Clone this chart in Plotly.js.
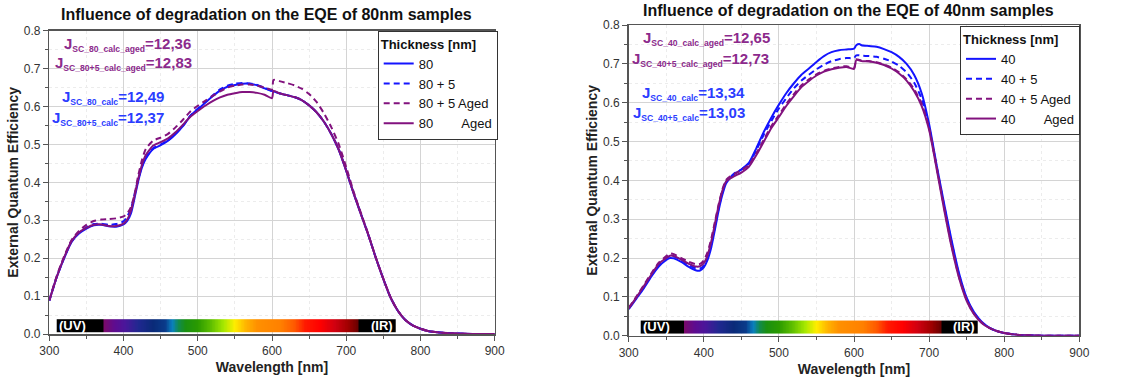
<!DOCTYPE html>
<html><head><meta charset="utf-8">
<script src="https://cdn.plot.ly/plotly-3.0.1.min.js"></script>
<style>html,body{margin:0;padding:0;background:#fff}#chart{width:1136px;height:383px}</style>
</head><body><div id="chart"></div>
<script>
// ---------- 80 nm samples ----------
const wl80 = [300,310,320,330,340,350,360,370,380,390,400,405,410,415,420,425,430,440,450,460,470,480,490,500,510,520,530,540,550,560,570,580,590,600,602,610,620,630,640,650,660,670,680,690,700,710,720,730,740,750,760,770,780,790,800,810,820,830,840,850,870,900];
const eqe80 = [0.088,0.150,0.200,0.243,0.265,0.278,0.287,0.288,0.284,0.283,0.289,0.298,0.318,0.360,0.405,0.440,0.462,0.488,0.498,0.510,0.527,0.548,0.575,0.593,0.610,0.627,0.642,0.652,0.657,0.660,0.660,0.656,0.648,0.641,0.640,0.635,0.630,0.625,0.617,0.603,0.585,0.560,0.527,0.485,0.430,0.370,0.315,0.260,0.200,0.145,0.095,0.060,0.036,0.022,0.014,0.008,0.005,0.003,0.002,0.001,0,0];
const eqe80p5 = [0.088,0.150,0.201,0.244,0.267,0.281,0.290,0.291,0.288,0.290,0.297,0.310,0.330,0.370,0.410,0.443,0.465,0.490,0.500,0.511,0.528,0.549,0.576,0.594,0.612,0.629,0.645,0.655,0.660,0.662,0.661,0.657,0.649,0.641,0.640,0.635,0.630,0.625,0.617,0.603,0.585,0.560,0.527,0.487,0.432,0.372,0.316,0.260,0.200,0.145,0.095,0.060,0.036,0.022,0.014,0.008,0.005,0.003,0.002,0.001,0,0];
const eqe80p5Aged = [0.090,0.153,0.205,0.248,0.272,0.288,0.298,0.302,0.303,0.305,0.310,0.318,0.335,0.370,0.420,0.460,0.488,0.510,0.518,0.528,0.545,0.565,0.587,0.602,0.615,0.628,0.640,0.650,0.655,0.658,0.658,0.655,0.650,0.645,0.670,0.667,0.662,0.656,0.647,0.633,0.612,0.582,0.545,0.500,0.440,0.375,0.318,0.262,0.201,0.146,0.096,0.060,0.036,0.022,0.014,0.008,0.005,0.003,0.002,0.001,0,0];
const eqe80Aged = [0.088,0.150,0.202,0.245,0.268,0.280,0.288,0.289,0.285,0.285,0.291,0.302,0.325,0.366,0.410,0.447,0.472,0.497,0.506,0.516,0.532,0.552,0.573,0.588,0.602,0.614,0.624,0.631,0.635,0.638,0.638,0.636,0.631,0.622,0.641,0.635,0.630,0.625,0.617,0.603,0.585,0.560,0.527,0.486,0.431,0.371,0.315,0.260,0.200,0.145,0.095,0.060,0.036,0.022,0.014,0.008,0.005,0.003,0.002,0.001,0,0];

// ---------- 40 nm samples ----------
const wl40 = [300,310,320,330,340,350,355,360,370,380,390,395,400,405,410,415,420,425,430,440,450,460,470,480,490,500,510,520,530,540,550,560,570,580,590,600,603,607,610,620,630,640,650,660,670,680,690,700,710,720,730,740,750,760,770,780,790,800,810,820,830,850,870,900];
const eqe40 = [0.068,0.095,0.122,0.152,0.178,0.195,0.200,0.199,0.190,0.177,0.168,0.168,0.176,0.195,0.228,0.275,0.325,0.365,0.393,0.415,0.428,0.445,0.483,0.525,0.562,0.595,0.625,0.650,0.672,0.688,0.705,0.720,0.730,0.735,0.737,0.739,0.748,0.751,0.748,0.746,0.744,0.738,0.730,0.718,0.700,0.672,0.625,0.545,0.440,0.340,0.245,0.160,0.098,0.060,0.036,0.021,0.012,0.007,0.004,0.002,0.001,0,0,0];
const eqe40p5 = [0.070,0.097,0.125,0.155,0.182,0.200,0.205,0.204,0.195,0.182,0.173,0.173,0.180,0.200,0.235,0.282,0.330,0.370,0.397,0.417,0.428,0.443,0.478,0.518,0.553,0.585,0.612,0.637,0.657,0.672,0.686,0.698,0.707,0.712,0.715,0.715,0.722,0.722,0.721,0.720,0.718,0.713,0.706,0.695,0.678,0.652,0.610,0.538,0.435,0.335,0.240,0.155,0.095,0.058,0.035,0.021,0.012,0.007,0.004,0.002,0.001,0,0,0];
const eqe40p5Aged = [0.072,0.100,0.130,0.160,0.188,0.205,0.212,0.210,0.200,0.190,0.184,0.185,0.194,0.215,0.250,0.295,0.340,0.378,0.402,0.416,0.426,0.440,0.470,0.505,0.540,0.568,0.597,0.622,0.645,0.660,0.673,0.682,0.688,0.692,0.694,0.689,0.712,0.710,0.708,0.707,0.704,0.698,0.690,0.678,0.660,0.635,0.598,0.535,0.435,0.330,0.232,0.150,0.092,0.056,0.034,0.020,0.012,0.007,0.004,0.002,0.001,0,0,0];
const eqe40Aged = [0.070,0.098,0.127,0.157,0.185,0.200,0.206,0.205,0.196,0.185,0.178,0.179,0.187,0.207,0.243,0.290,0.337,0.375,0.398,0.410,0.420,0.435,0.465,0.500,0.535,0.563,0.592,0.617,0.640,0.656,0.670,0.680,0.686,0.690,0.692,0.687,0.710,0.709,0.707,0.706,0.703,0.697,0.688,0.675,0.657,0.630,0.592,0.530,0.430,0.325,0.228,0.148,0.090,0.055,0.033,0.020,0.012,0.007,0.004,0.002,0.001,0,0,0];

// ---------- labels ----------
const names80 = ['80', '80 + 5', '80 + 5 Aged', '80\u00a0\u00a0\u00a0\u00a0\u00a0\u00a0\u00a0 Aged'];
const names40 = ['40', '40 + 5', '40 + 5 Aged', '40\u00a0\u00a0\u00a0\u00a0\u00a0\u00a0\u00a0 Aged'];
const jsc80 = [['SC_80_calc_aged','12,36'],['SC_80+5_calc_aged','12,83'],['SC_80_calc','12,49'],['SC_80+5_calc','12,37']];
const jsc40 = [['SC_40_calc_aged','12,65'],['SC_40+5_calc_aged','12,73'],['SC_40_calc','13,34'],['SC_40+5_calc','13,03']];

// spectrum colour band: [nm, colour]
const spectrumStops = [[300,'#000000'],[373,'#000000'],[374,'#7a0a6a'],[388,'#5e0c90'],[402,'#4a169a'],[420,'#202890'],[440,'#0a2a78'],[456,'#0a3a8a'],[466,'#0a80c0'],[474,'#108a50'],[484,'#1a9010'],[500,'#2a9a00'],[518,'#5ebe00'],[535,'#a6e800'],[550,'#ffee00'],[565,'#ffb400'],[580,'#ff9000'],[612,'#ff8000'],[630,'#ff5a00'],[645,'#ff1a00'],[665,'#ff0000'],[685,'#d00010'],[703,'#a00000'],[716,'#6a0000'],[717,'#000000'],[800,'#000000']];
const band80 = [310, 767];
const band40 = [316, 765];
const bandY = [0.006, 0.039];

const BLUE = '#1414ff', PURPLE = '#82127e';
const ABLUE = '#2b3dff', APURPLE = '#8c2a8c';
const FONT = 'Liberation Sans, Arial, sans-serif';

const styles = [
  {color: BLUE, dash: 'solid'},
  {color: BLUE, dash: '6px,4px'},
  {color: PURPLE, dash: '6px,4px'},
  {color: PURPLE, dash: 'solid'}
];

function band(range, xa, ya) {
  const edges = [], z = [];
  for (let w = range[0]; w <= range[1]; w += 1) edges.push(w);
  for (let i = 0; i < edges.length - 1; i++) z.push((edges[i] + edges[i+1]) / 2);
  const zmin = spectrumStops[0][0], zmax = spectrumStops[spectrumStops.length-1][0];
  return {
    type: 'heatmap', x: edges, y: bandY, z: [z], xaxis: xa, yaxis: ya,
    zmin: zmin, zmax: zmax, showscale: false, hoverinfo: 'skip', showlegend: false,
    colorscale: spectrumStops.map(s => [(s[0]-zmin)/(zmax-zmin), s[1]])
  };
}

const traces = [band(band80, 'x', 'y'), band(band40, 'x2', 'y2')];
[eqe80, eqe80p5, eqe80p5Aged, eqe80Aged].forEach((v, i) => traces.push({
  type: 'scatter', mode: 'lines', x: wl80, y: v, name: names80[i], xaxis: 'x', yaxis: 'y', legend: 'legend',
  line: {color: styles[i].color, dash: styles[i].dash, width: 2, shape: 'spline', smoothing: 0.6}
}));
[eqe40, eqe40p5, eqe40p5Aged, eqe40Aged].forEach((v, i) => traces.push({
  type: 'scatter', mode: 'lines', x: wl40, y: v, name: names40[i], xaxis: 'x2', yaxis: 'y2', legend: 'legend2',
  line: {color: styles[i].color, dash: styles[i].dash, width: 2, shape: 'spline', smoothing: 0.6}
}));

const W = 1136, H = 383;
function xAxis(domain) {
  return {
    domain: domain, range: [300, 900], dtick: 100, tick0: 300,
    showline: true, mirror: true, linecolor: '#555', linewidth: 1.5,
    ticks: 'outside', ticklen: 5, tickcolor: '#555', tickwidth: 1,
    showgrid: true, gridcolor: '#d4d4d4', gridwidth: 1, zeroline: false,
    minor: {dtick: 50, ticks: 'outside', ticklen: 3, tickcolor: '#555', showgrid: true, gridcolor: '#ececec', griddash: 'dot'},
    tickfont: {family: FONT, size: 12, color: '#333'},
    title: {text: '<b>Wavelength [nm]</b>', font: {family: FONT, size: 14, color: '#222'}, standoff: 5}
  };
}
function yAxis(domain, anchor) {
  return {
    domain: domain, anchor: anchor, range: [0, 0.8], dtick: 0.1, tickformat: '.1f',
    showline: true, mirror: true, linecolor: '#555', linewidth: 1.5,
    ticks: 'outside', ticklen: 5, tickcolor: '#555', tickwidth: 1,
    showgrid: true, gridcolor: '#d4d4d4', gridwidth: 1, zeroline: false,
    minor: {dtick: 0.05, ticks: 'outside', ticklen: 3, tickcolor: '#555', showgrid: true, gridcolor: '#ececec', griddash: 'dot'},
    tickfont: {family: FONT, size: 12, color: '#333'},
    title: {text: '<b>External Quantum Efficiency</b>', font: {family: FONT, size: 14, color: '#222'}, standoff: 2}
  };
}

const xa1 = xAxis([49.3/W, 494.7/W]); xa1.anchor = 'y';
const xa2 = xAxis([628.7/W, 1079.3/W]); xa2.anchor = 'y2';

function jscAnnots(list, xs, ys, colors) {
  return list.map((j, i) => ({
    xref: 'paper', yref: 'paper', x: xs[i] / W, y: 1 - ys[i] / H, xanchor: 'right', yanchor: 'middle',
    text: '<b>J<sub><span style="font-size:8.6px">' + j[0] + '</span></sub>=' + j[1] + '</b>', showarrow: false,
    font: {family: FONT, size: 15, color: colors[i]}
  }));
}
const annColors = [APURPLE, APURPLE, ABLUE, ABLUE];
const annotations = [
  {xref: 'paper', yref: 'paper', x: 266/W, y: 1 - 15/H, xanchor: 'center', yanchor: 'middle', showarrow: false,
   text: '<b>Influence of degradation on the EQE of 80nm samples</b>', font: {family: FONT, size: 16, color: '#111'}},
  {xref: 'paper', yref: 'paper', x: 848/W, y: 1 - 10/H, xanchor: 'center', yanchor: 'middle', showarrow: false,
   text: '<b>Influence of degradation on the EQE of 40nm samples</b>', font: {family: FONT, size: 16, color: '#111'}},
  {xref: 'x', yref: 'y', x: band80[0] + 1, y: (bandY[0] + bandY[1]) / 2, xanchor: 'left', yanchor: 'middle', showarrow: false,
   text: '<b>(UV)</b>', font: {family: FONT, size: 13, color: '#fff'}},
  {xref: 'x', yref: 'y', x: band80[1] - 1, y: (bandY[0] + bandY[1]) / 2, xanchor: 'right', yanchor: 'middle', showarrow: false,
   text: '<b>(IR)</b>', font: {family: FONT, size: 13, color: '#fff'}},
  {xref: 'x2', yref: 'y2', x: band40[0] + 1, y: (bandY[0] + bandY[1]) / 2, xanchor: 'left', yanchor: 'middle', showarrow: false,
   text: '<b>(UV)</b>', font: {family: FONT, size: 13, color: '#fff'}},
  {xref: 'x2', yref: 'y2', x: band40[1] - 1, y: (bandY[0] + bandY[1]) / 2, xanchor: 'right', yanchor: 'middle', showarrow: false,
   text: '<b>(IR)</b>', font: {family: FONT, size: 13, color: '#fff'}}
].concat(
  jscAnnots(jsc80, [193, 194, 166, 166], [44, 64, 98, 118], annColors),
  jscAnnots(jsc40, [772, 771, 747, 747], [38, 59, 93, 114], annColors)
);

const legendBase = {
  bgcolor: '#fff', bordercolor: '#333', borderwidth: 1, xanchor: 'left', yanchor: 'top',
  font: {family: FONT, size: 13, color: '#111'}, tracegroupgap: 0, itemwidth: 30,
  title: {text: '<b>Thickness [nm]</b>', font: {family: FONT, size: 13, color: '#111'}}
};

const layout = {
  width: W, height: H, margin: {l: 0, r: 0, t: 0, b: 0},
  paper_bgcolor: '#fff', plot_bgcolor: '#fff',
  xaxis: xa1,
  yaxis: yAxis([1 - 334/H, 1 - 30.7/H], 'x'),
  xaxis2: xa2,
  yaxis2: yAxis([1 - 335.7/H, 1 - 25/H], 'x2'),
  legend: Object.assign({x: 377.7/W, y: 1 - 30.7/H}, legendBase),
  legend2: Object.assign({x: 960/W, y: 1 - 26/H}, legendBase),
  annotations: annotations,
  showlegend: true
};

Plotly.newPlot('chart', traces, layout, {displayModeBar: false, staticPlot: true});
</script>
</body></html>
